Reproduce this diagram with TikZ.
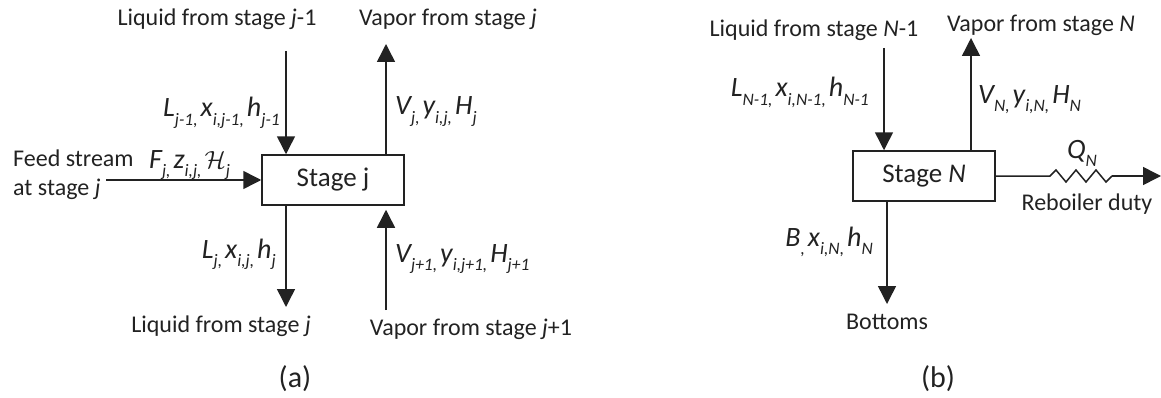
\documentclass[tikz,border=0pt]{standalone}
\usepackage{fontspec}
\setmainfont{Carlito}
\usetikzlibrary{arrows.meta}
\newcommand\sbs[1]{\raisebox{-0.32em}{\fontsize{17.5}{18}\selectfont\itshape #1}}
\newcommand\gp{\hspace{3pt}}
\definecolor{ink}{HTML}{222222}
\tikzset{
  x=1pt,y=1pt,
  flow/.style={draw=ink,line width=1.5pt,-{Triangle[width=18pt,length=18pt]}},
  plain/.style={draw=ink,line width=1.5pt},
  stagebox/.style={draw=ink,line width=1.5pt,fill=white,inner sep=0pt,minimum width=#1,minimum height=50pt,font=\fontsize{27}{30}\selectfont,text=ink},
  lbl/.style={inner sep=0pt,font=\fontsize{24}{28}\selectfont,text=ink,anchor=base},
  sym/.style={inner sep=0pt,font=\fontsize{28}{30}\selectfont\itshape,text=ink,anchor=base},
  captext/.style={inner sep=0pt,font=\fontsize{30}{34}\selectfont,text=ink,anchor=base}
}
\begin{document}
\begin{tikzpicture}
\useasboundingbox (0,0) rectangle (1161,397);
% panel (a)
\node[stagebox=142pt] (A) at (333,217) {Stage j};
\node[lbl] (a1) at (217,371) {Liquid from stage \textit{j}-1};
\node[lbl] (a2) at (448,371) {Vapor from stage \textit{j}};
\node[lbl,anchor=base west] (a4) at (13,231) {Feed stream};
\node[lbl,anchor=base west] (a5) at (13,202) {at stage \textit{j}};
\node[lbl] (a6) at (221,65) {Liquid from stage \textit{j}};
\node[lbl] (a7) at (471,62) {Vapor from stage \textit{j}+1};
\node[captext] (acap) at (295,10) {(a)};
\node[sym,anchor=base east] (s1) at (280,280) {L\sbs{j-1,}\gp x\sbs{i,j-1,}\gp h\sbs{j-1}};
\node[sym,anchor=base west] (s2) at (395,282) {V\sbs{j,}\gp y\sbs{i,j,}\gp H\sbs{j}};
\node[sym,anchor=base west] (s3) at (149,229) {F\sbs{j,}\gp z\sbs{i,j,}\gp $\mathcal{H}$\sbs{j}};
\node[sym,anchor=base east] (s4) at (276,139) {L\sbs{j,}\gp x\sbs{i,j,}\gp h\sbs{j}};
\node[sym,anchor=base west] (s5) at (395,135) {V\sbs{j+1,}\gp y\sbs{i,j+1,}\gp H\sbs{j+1}};
\coordinate (p1) at (286,346);
\coordinate (p2) at (386,353);
\coordinate (p3) at (106,217);
\coordinate (p4) at (286,90);
\coordinate (p5) at (386,87);
\draw[flow] (p1) -- (p1 |- A.north);
\draw[flow] (p2 |- A.north) -- (p2);
\draw[flow] (p3) -- (A.west);
\draw[flow] (p4 |- A.south) -- (p4);
\draw[flow,shorten >=4pt] (p5) -- (p5 |- A.south);
% panel (b)
\node[stagebox=142pt] (B) at (924,221) {Stage \textit{N}};
\node[lbl] (b1) at (814,360) {Liquid from stage \textit{N}-1};
\node[lbl] (b2) at (1041,365) {Vapor from stage \textit{N}};
\node[lbl] (b3) at (1087,187) {Reboiler duty};
\node[lbl] (b4) at (887,68) {Bottoms};
\node[captext] (bcap) at (938,10) {(b)};
\node[sym,anchor=base east] (t1) at (869,300) {L\sbs{N-1,}\gp x\sbs{i,N-1,}\gp h\sbs{N-1}};
\node[sym,anchor=base west] (t2) at (978,294) {V\sbs{N,}\gp y\sbs{i,N,}\gp H\sbs{N}};
\node[sym,anchor=base east] (t3) at (873,151) {B\sbs{,}\gp x\sbs{i,N,}\gp h\sbs{N}};
\node[sym] (t4) at (1082,239) {Q\sbs{N}};
\coordinate (q1) at (884,349);
\coordinate (q2) at (971,359);
\coordinate (q3) at (887,93);
\coordinate (q4) at (1161,221);
\coordinate (z0) at (1050,221);
\draw[flow] (q1) -- (q1 |- B.north);
\draw[flow] (q2 |- B.north) -- (q2);
\draw[flow] (q3 |- B.south) -- (q3);
\draw[plain] (B.east) -- (z0) -- ++(6,6) -- ++(10,-12) -- ++(10,12) -- ++(10,-12) -- ++(10,12) -- ++(10,-12) -- ++(6,6) coordinate (z1);
\draw[flow] (z1) -- (q4);
\end{tikzpicture}
\end{document}
